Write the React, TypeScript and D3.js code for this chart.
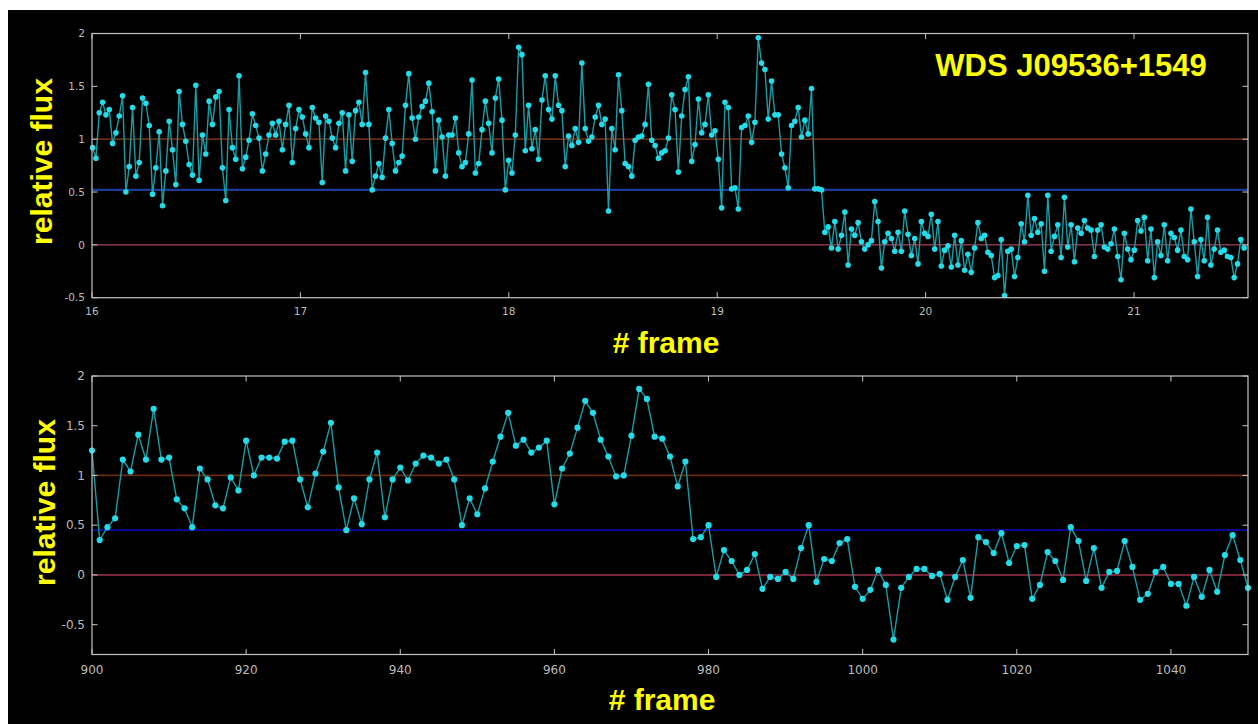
import * as d3 from 'd3'

// light curve of WDS J09536+1549 — two panels, same flux axis
const TOP_T0 = 16.003
const TOP_DT = 0.01597
const TOP_FLUX = [
  0.92, 0.82, 1.25, 1.35, 1.23, 1.28, 0.96, 1.06, 1.22, 1.41,
  0.5, 0.74, 1.3, 0.65, 0.78, 1.39, 1.34, 1.13, 0.48, 0.73,
  1.07, 0.37, 0.7, 1.17, 0.9, 0.57, 1.45, 1.14, 0.98, 0.76,
  0.66, 1.51, 0.61, 1.04, 0.86, 1.36, 1.14, 1.4, 1.45, 0.73,
  0.42, 1.28, 0.92, 0.81, 1.6, 0.72, 0.83, 0.99, 1.24, 1.13,
  1.01, 0.7, 0.86, 1.04, 1.15, 1.04, 1.17, 0.9,
  1.14, 1.32, 0.78, 1.1, 1.28, 1.21, 1.05, 0.92, 1.3, 1.2,
  1.16, 0.59, 1.22, 1.17, 1.01, 0.92, 1.15, 1.25, 0.7, 1.23,
  0.79, 1.27, 1.35, 1.14, 1.63, 1.14, 0.52, 0.65, 0.77, 0.64,
  1.01, 1.28, 0.96, 0.7, 0.78, 0.84, 1.32, 1.62, 1.2, 1.0,
  1.21, 1.31, 1.36, 1.53, 1.26, 0.7, 1.18, 1.02, 0.65, 1.04,
  1.04, 1.2, 0.87, 0.74, 0.78, 1.05, 1.56, 0.68,
  0.77, 1.09, 1.36, 1.15, 0.87, 1.39, 1.57, 1.18, 0.52, 0.8,
  0.68, 1.04, 1.87, 1.8, 0.89, 1.32, 0.91, 1.09, 0.81, 1.37,
  1.6, 1.28, 1.19, 1.6, 1.32, 1.27, 0.74, 1.03, 0.94, 1.1,
  0.97, 1.72, 1.1, 0.98, 1.02, 1.21, 1.32, 1.14, 1.19, 0.32,
  1.1, 0.9, 1.61, 1.27, 0.77, 0.74, 0.65, 0.99, 1.02, 1.03,
  1.14, 1.52, 0.99, 0.94, 0.82, 0.87, 0.89, 1.01,
  1.42, 1.28, 0.69, 1.22, 1.47, 1.59, 0.79, 0.95, 1.38, 1.06,
  1.14, 1.42, 1.04, 1.08, 0.81, 0.35, 1.35, 1.3, 0.53, 0.54,
  0.34, 1.11, 1.13, 1.22, 0.97, 1.16, 1.96, 1.72, 1.66, 1.19,
  1.55, 1.23, 1.23, 0.86, 0.73, 0.54, 1.13, 1.17, 1.3, 1.02,
  1.18, 1.05, 1.48, 0.53, 0.53, 0.52, 0.12, 0.17, -0.03, 0.22,
  -0.04, 0.09, 0.31, -0.19, 0.15, 0.09, 0.21, 0.03,
  -0.04, 0.0, 0.04, 0.41, 0.22, -0.22, 0.03, 0.11, 0.06, -0.06,
  0.12, -0.06, 0.32, 0.1, -0.1, 0.06, -0.18, 0.22, 0.11, 0.08,
  0.29, -0.04, 0.22, -0.2, -0.05, -0.01, -0.21, 0.09, -0.19, 0.04,
  -0.24, -0.09, -0.26, -0.03, 0.21, 0.06, 0.09, -0.07, -0.1, -0.31,
  -0.29, 0.05, -0.48, -0.06, -0.04, -0.3, -0.12, 0.2, 0.03, 0.47,
  0.09, 0.25, 0.12, 0.2, -0.25, 0.47, -0.06, 0.08,
  0.19, -0.12, 0.45, -0.02, 0.19, -0.16, 0.16, 0.11, 0.23, 0.16,
  0.14, -0.11, 0.14, 0.19, -0.02, -0.04, 0.01, 0.15, -0.11, -0.33,
  0.11, -0.04, -0.14, -0.05, 0.23, 0.13, 0.26, -0.15, 0.15, -0.31,
  0.03, -0.1, 0.19, -0.15, 0.11, 0.07, -0.05, 0.14, -0.11, -0.14,
  0.34, 0.03, -0.3, 0.05, -0.15, 0.26, -0.19, -0.04, 0.14, -0.07,
  -0.05, -0.11, -0.12, -0.31, -0.18, 0.05, -0.03,
]
const BOTTOM_F0 = 900
const BOTTOM_FLUX = [
  1.25, 0.35, 0.48, 0.57, 1.16, 1.04, 1.41, 1.16, 1.67, 1.16,
  1.18, 0.76, 0.67, 0.48, 1.07, 0.96, 0.7, 0.67, 0.98, 0.85,
  1.35, 1.0, 1.18, 1.18, 1.17, 1.34, 1.35, 0.96, 0.68, 1.02,
  1.24, 1.53, 0.88, 0.45, 0.77, 0.51, 0.96, 1.23, 0.58, 0.96,
  1.08, 0.95, 1.12, 1.2, 1.18, 1.12, 1.16, 0.96, 0.5, 0.77,
  0.61, 0.87, 1.14, 1.39, 1.63, 1.3, 1.36, 1.23, 1.28, 1.35,
  0.71, 1.07, 1.22, 1.48, 1.75, 1.63, 1.36, 1.19, 0.99, 1.0,
  1.4, 1.87, 1.77, 1.39, 1.37, 1.19, 0.89, 1.14, 0.36, 0.38,
  0.5, -0.02, 0.25, 0.14, 0.0, 0.05, 0.21, -0.14, -0.02, -0.04,
  0.03, -0.04, 0.27, 0.5, -0.07, 0.16, 0.14, 0.32, 0.36, -0.12,
  -0.24, -0.15, 0.05, -0.1, -0.65, -0.13, -0.02, 0.06, 0.06, -0.01,
  0.01, -0.25, -0.02, 0.15, -0.23, 0.38, 0.33, 0.22, 0.42, 0.12,
  0.29, 0.3, -0.24, -0.1, 0.23, 0.14, -0.05, 0.48, 0.34, -0.06,
  0.27, -0.13, 0.03, 0.04, 0.34, 0.08, -0.25, -0.19, 0.03, 0.08,
  -0.09, -0.09, -0.31, -0.02, -0.22, 0.05, -0.17, 0.2, 0.4, 0.15,
  -0.13,
]
const TOP_X_TICKS = [16, 17, 18, 19, 20, 21]
const BOTTOM_X_TICKS = [900, 920, 940, 960, 980, 1000, 1020, 1040]
const Y_TICKS = [-0.5, 0, 0.5, 1, 1.5, 2]
const TOP_LEVELS = [1, 0.52, 0]
const BOTTOM_LEVELS = [1, 0.45, 0]

const AXIS = '#c4c4c4'
const LABEL = '#bcbcbc'
const YELLOW = '#ffff00'
const LINE = '#1a9ca4'
const DOT = '#22dcea'

function Panel({ box, xDomain, yDomain, xTicks, xs, ys, levels, levelColors, fontSize, r, xlab, ylab }) {
  const x = d3.scaleLinear().domain(xDomain).range([box.l, box.r])
  const y = d3.scaleLinear().domain(yDomain).range([box.b, box.t])
  const pts = ys.map((v, i) => [xs[i], v])
  const line = d3.line().x(d => x(d[0])).y(d => y(d[1]))
  const tk = 5.5
  return (
    <g>
      {levels.map((lv, i) => (
        <line key={lv} x1={box.l} x2={box.r} y1={y(lv)} y2={y(lv)}
          stroke={levelColors[i].c} strokeWidth={levelColors[i].w} />
      ))}
      <path d={line(pts)} fill="none" stroke={LINE} strokeWidth={1.4} />
      {pts.map((p, i) => (
        <circle key={i} cx={x(p[0])} cy={y(p[1])} r={r} fill={DOT} />
      ))}
      <rect x={box.l} y={box.t} width={box.r - box.l} height={box.b - box.t}
        fill="none" stroke={AXIS} strokeWidth={1.2} />
      {xTicks.map(t => (
        <g key={t}>
          <line x1={x(t)} x2={x(t)} y1={box.t} y2={box.t + tk} stroke={AXIS} />
          <line x1={x(t)} x2={x(t)} y1={box.b} y2={box.b - tk} stroke={AXIS} />
          <text x={x(t)} y={box.b + fontSize + 7} textAnchor="middle"
            fontFamily="DejaVu Sans" fontSize={fontSize} fill={LABEL}>{t}</text>
        </g>
      ))}
      {Y_TICKS.map(t => (
        <g key={t}>
          <line x1={box.l} x2={box.l + tk} y1={y(t)} y2={y(t)} stroke={AXIS} />
          <line x1={box.r} x2={box.r - tk} y1={y(t)} y2={y(t)} stroke={AXIS} />
          <text x={box.l - 7} y={y(t)} dy="0.35em" textAnchor="end"
            fontFamily="DejaVu Sans" fontSize={fontSize} fill={LABEL}>{t}</text>
        </g>
      ))}
      <text x={xlab.x} y={xlab.y} textAnchor="middle" fontFamily="Liberation Sans, Arial"
        fontWeight="bold" fontSize={30} fill={YELLOW}># frame</text>
      <text transform={`translate(${ylab.x},${ylab.y}) rotate(-90)`} textAnchor="middle"
        fontFamily="Liberation Sans, Arial" fontWeight="bold" fontSize={30} fill={YELLOW}>relative flux</text>
    </g>
  )
}

export default function App() {
  const topXs = TOP_FLUX.map((_, i) => TOP_T0 + i * TOP_DT)
  const bottomXs = BOTTOM_FLUX.map((_, i) => BOTTOM_F0 + i)
  return (
    <>
      <style>{'body{margin:0;overflow:hidden}'}</style>
      <svg width={1258} height={724} style={{ display: 'block' }}>
        <rect x={0} y={0} width={1258} height={724} fill="#fff" />
        <rect x={8} y={10} width={1250} height={714} fill="#000" />
        <Panel
          box={{ l: 92, r: 1248, t: 33.5, b: 297.7 }}
          xDomain={[16, 21.547]} yDomain={[-0.5, 2]}
          xTicks={TOP_X_TICKS} xs={topXs} ys={TOP_FLUX}
          levels={TOP_LEVELS}
          levelColors={[{ c: '#6a2c0c', w: 1.8 }, { c: '#1c3c9c', w: 2.2 }, { c: '#a8405c', w: 1.4 }]}
          fontSize={10.5} r={2.8}
          xlab={{ x: 666, y: 353 }} ylab={{ x: 52, y: 161.5 }}
        />
        <Panel
          box={{ l: 92, r: 1248, t: 376, b: 654.5 }}
          xDomain={[900, 1050]} yDomain={[-0.8, 2]}
          xTicks={BOTTOM_X_TICKS} xs={bottomXs} ys={BOTTOM_FLUX}
          levels={BOTTOM_LEVELS}
          levelColors={[{ c: '#6a2c0c', w: 1.8 }, { c: '#0a0aa8', w: 1.8 }, { c: '#a0304c', w: 1.6 }]}
          fontSize={12} r={3.1}
          xlab={{ x: 662, y: 710 }} ylab={{ x: 55, y: 502.5 }}
        />
        <text x={1071} y={75.5} textAnchor="middle" fontFamily="Liberation Sans, Arial"
          fontWeight="bold" fontSize={31} fill={YELLOW}>WDS J09536+1549</text>
      </svg>
    </>
  )
}
